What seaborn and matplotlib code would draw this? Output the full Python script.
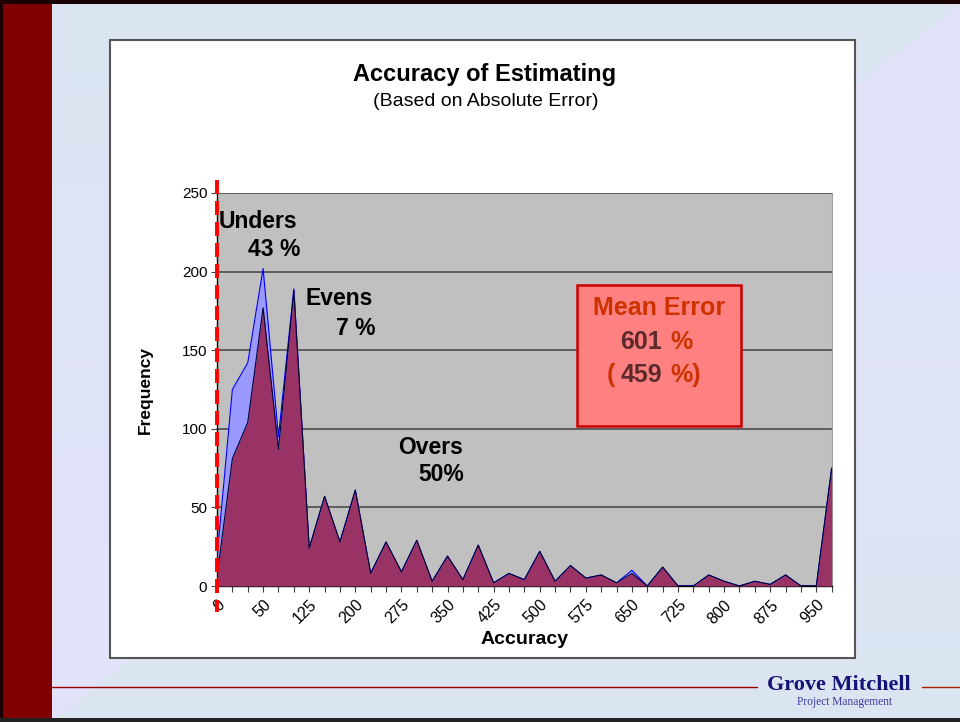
import numpy as np
import seaborn as sns
import matplotlib.pyplot as plt
from matplotlib.patches import Rectangle

# accuracy buckets (category axis) and frequencies
accuracy = [0, 10, 25, 50, 75, 100, 125, 150, 175, 200, 225, 250, 275, 300,
            325, 350, 375, 400, 425, 450, 475, 500, 525, 550, 575, 600, 625,
            650, 675, 700, 725, 750, 775, 800, 825, 850, 875, 900, 925, 950, 975]
freq_all = [18, 125, 142, 202, 95, 189, 24, 57, 28, 61, 8, 28, 9, 29, 3, 19,
            4, 26, 2, 8, 4, 22, 3, 13, 5, 7, 2, 10, 0, 12, 0, 0, 7, 3, 0, 3,
            1, 7, 0, 0, 75]
freq_main = [6, 81, 104, 177, 87, 188, 24, 57, 28, 61, 8, 28, 9, 29, 3, 19,
             4, 26, 2, 8, 4, 22, 3, 13, 5, 7, 2, 8, 0, 12, 0, 0, 7, 3, 0, 3,
             1, 7, 0, 0, 75]
y_ticks = [0, 50, 100, 150, 200, 250]

W, H = 960, 722


def fx(px):
    return px / W


def fy(py):
    return 1 - py / H


sns.set_style("white")
plt.rcParams['font.family'] = ['Liberation Sans', 'DejaVu Sans']
plt.rcParams.update({'text.color': 'black', 'axes.labelcolor': 'black',
                     'xtick.color': 'black', 'ytick.color': 'black'})

fig = plt.figure(figsize=(W / 100, H / 100), dpi=100)

# slide background: two opposite vertical gradients split by a diagonal
yy, xx = np.mgrid[0:H, 0:W]
light = np.array([219, 229, 241]) / 255
lav = np.array([227, 227, 251]) / 255
t = (yy / H)[..., None]
upper = light * (1 - t) + lav * t
lower = lav * (1 - t) + light * t
mask = (yy > 3 + (W - xx) * 0.79)[..., None]
img = np.where(mask, lower, upper)
bg = fig.add_axes([0, 0, 1, 1], zorder=-3)
bg.imshow(img, aspect='auto', interpolation='bilinear')
bg.axis('off')

# slide frame pieces
fig.patches.append(Rectangle((0, 0), fx(52), 1, transform=fig.transFigure,
                             fc='#800000', ec='none', zorder=-2))
fig.patches.append(Rectangle((0, 0), fx(3), 1, transform=fig.transFigure,
                             fc='#1a0000', ec='none', zorder=-2))
fig.patches.append(Rectangle((0, fy(4)), 1, 1 - fy(4), transform=fig.transFigure,
                             fc='#1a0000', ec='none', zorder=-2))
fig.patches.append(Rectangle((0, 0), 1, fy(718), transform=fig.transFigure,
                             fc='#222222', ec='none', zorder=-2))
fig.lines.append(plt.Line2D([fx(52), fx(757)], [fy(687), fy(687)], transform=fig.transFigure,
                            color='#990000', lw=1, zorder=-2))
fig.lines.append(plt.Line2D([fx(922), fx(960)], [fy(687), fy(687)], transform=fig.transFigure,
                            color='#aa2200', lw=1, zorder=-2))
fig.text(fx(839), fy(685), 'Grove Mitchell', ha='center', va='center', fontsize=16,
         fontweight='bold', color='#141478', family='Liberation Serif')
fig.text(fx(845), fy(702), 'Project Management', ha='center', va='center', fontsize=8.3,
         color='#3a3aa0', family='Liberation Serif')

# white chart box
fig.patches.append(Rectangle((fx(110), fy(658)), fx(855) - fx(110), fy(40) - fy(658),
                             transform=fig.transFigure, fc='white', ec='#555555',
                             lw=1.5, zorder=-1))
fig.text(fx(485), fy(75), 'Accuracy of Estimating', ha='center', va='center',
         fontsize=17, fontweight='bold')
fig.text(fx(486), fy(101), '(Based on Absolute Error)', ha='center', va='center',
         fontsize=14)

ax = fig.add_axes([fx(217), fy(586), fx(831.7) - fx(217), fy(193) - fy(586)])
ax.set_facecolor('#c0c0c0')

x = np.arange(len(accuracy))
ax.fill_between(x, freq_all, color='#9999ff', lw=0, zorder=2)
sns.lineplot(x=x, y=freq_all, color='#0000ff', lw=0.8, ax=ax, zorder=3)
ax.fill_between(x, freq_main, color='#993366', lw=0, zorder=4)
sns.lineplot(x=x, y=freq_main, color='#000033', lw=0.8, ax=ax, zorder=5)

ax.set_xlim(0, len(accuracy) - 1)
ax.set_ylim(0, 250)
ax.set_yticks(y_ticks)
ax.yaxis.grid(True, color='#555555', lw=1.3)
ax.set_axisbelow(True)
ax.set_xticks(x)
ax.set_xticklabels([str(a) if i % 3 == 0 else '' for i, a in enumerate(accuracy)])
plt.setp(ax.get_xticklabels(), rotation=45, ha='right', va='top', rotation_mode='anchor')
ax.tick_params(axis='x', length=4, color='#404040', labelsize=11.5, pad=4, direction='out',
               bottom=True)
ax.tick_params(axis='y', length=4, color='#404040', labelsize=11, pad=3, direction='out',
               left=True)

for side in ['left', 'bottom']:
    ax.spines[side].set_color('black')
    ax.spines[side].set_linewidth(1)
ax.spines['top'].set_visible(False)
ax.spines['right'].set_color('#a0a0a0')
ax.spines['right'].set_linewidth(0.8)

ax.set_xlabel('Accuracy', fontsize=14, fontweight='bold')
ax.xaxis.set_label_coords(0.501, -0.115)
ax.set_ylabel('Frequency', fontsize=12.5, fontweight='bold')
ax.yaxis.set_label_coords(-0.105, 0.5)

# red dashed "zero" marker
ax.plot([0, 0], [1.033, -0.066], transform=ax.get_xaxis_transform(), color='red',
        lw=2.8, ls=(0, (3.6, 1.8)), clip_on=False, zorder=8)

# region labels
lab = dict(fontsize=16.5, fontweight='bold', va='center', ha='left', zorder=9)
ax.text(0.13, 232, 'Unders', **lab)
ax.text(2.0, 214, '43 %', **lab)
ax.text(5.73, 183, 'Evens', **lab)
ax.text(7.75, 163.5, '7 %', **lab)
ax.text(11.8, 88.4, 'Overs', **lab)
ax.text(13.1, 71.2, '50%', **lab)

# mean error box
ax.add_patch(Rectangle((0.5857, 0.407), 0.2666, 0.359, transform=ax.transAxes,
                       fc='#ff8080', ec='#cc0000', lw=1.8, zorder=9))
red, dark = '#cc3300', '#5c2a2a'
box = dict(fontsize=18, fontweight='bold', transform=ax.transAxes, zorder=10)
ax.text(0.719, 0.707, 'Mean Error', ha='center', va='center', color=red, **box)
t1 = ax.text(0.690, 0.622, '601', ha='center', va='center', color=dark, **box)
ax.annotate('%', xy=(1, 0), xycoords=t1, xytext=(6, 0), textcoords='offset points',
            ha='left', va='bottom', color=red, fontsize=18, fontweight='bold', zorder=10)
t2 = ax.text(0.690, 0.537, '459', ha='center', va='center', color=dark, **box)
ax.annotate('(', xy=(0, 0), xycoords=t2, xytext=(-4, 0), textcoords='offset points',
            ha='right', va='bottom', color=red, fontsize=18, fontweight='bold', zorder=10)
ax.annotate('%)', xy=(1, 0), xycoords=t2, xytext=(6, 0), textcoords='offset points',
            ha='left', va='bottom', color=red, fontsize=18, fontweight='bold', zorder=10)

fig.savefig('out.png', dpi=100)
